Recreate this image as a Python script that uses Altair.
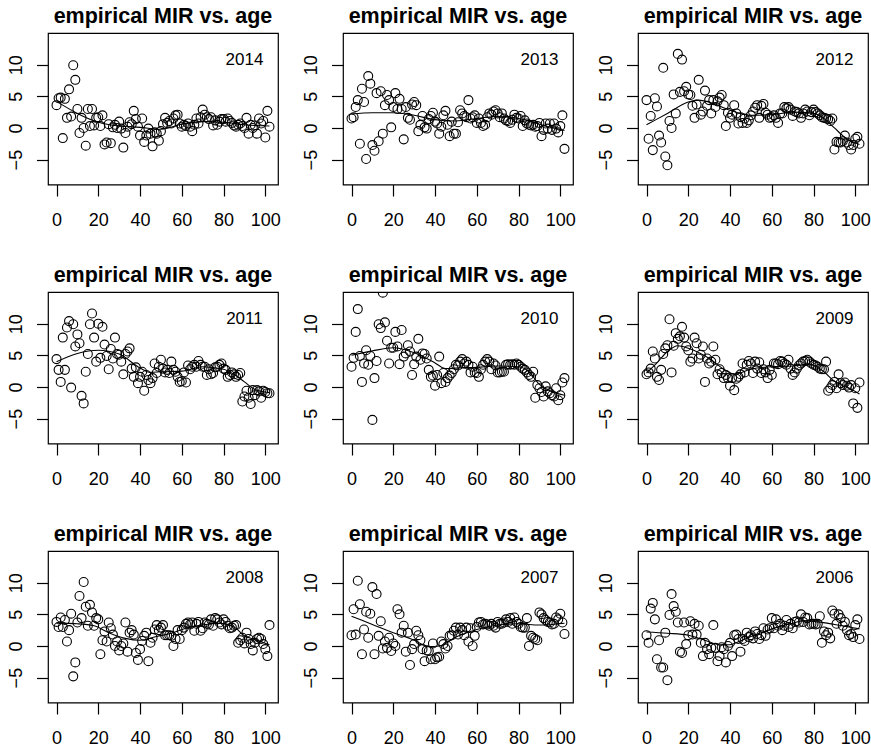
import altair as alt
import pandas as pd

AGES = list(range(103))

Y2014 = [3.6, 4.7, 4.8, -1.6, 4.6, 1.6, 6.1, 1.8, 9.9, 7.6,
         3.0, -0.8, 1.6, 0.0, -2.8, 3.0, 0.3, 3.0, 0.4, 1.6,
         1.7, 0.3, 2.0, -2.6, -2.3, 0.6, -2.4, 0.1, 0.5, 0.0,
         1.0, -0.1, -3.1, -0.8, 0.2, 0.9, 0.6, 2.7, 1.4, 0.2,
         -1.2, 1.5, -2.2, -1.2, -0.1, -0.9, -2.9, -0.7, -0.9, -2.0,
         -0.5, 0.6, 1.6, 0.8, 1.1, 0.7, 1.5, 2.0, 2.1, 0.7,
         0.2, 0.5, 0.3, 0.7, 0.2, -0.5, 0.5, 1.5, 0.7, 1.7,
         2.9, 2.1, 1.7, 1.4, 1.7, 0.4, 1.2, 0.5, 1.0, 1.4,
         1.4, 1.0, 1.5, 1.1, 0.8, 0.4, 0.2, 0.5, 0.7, 0.3,
         0.0, 1.6, -0.9, 0.5, 0.0, 0.4, -0.9, 1.5, 0.7, 1.1,
         -1.5, 2.7, 0.2]
Y2013 = [1.5, 1.7, 3.3, 4.4, -2.5, 6.2, 4.1, -4.9, 8.2, 7.0,
         -2.7, -3.6, 5.5, -2.1, 5.8, -0.9, 3.6, 5.2, 4.4, 0.1,
         3.3, 5.5, 3.0, 4.6, 3.0, -1.8, 3.3, 1.6, 1.3, 3.7,
         4.1, 3.6, -0.5, 0.5, 1.9, 0.1, -0.1, 1.4, 1.9, 2.4,
         1.0, 0.7, -0.9, 0.2, 2.0, 2.7, 0.5, -1.3, 1.0, -0.9,
         -0.9, 0.9, 2.8, 2.3, 1.9, 1.7, 4.4, 1.5, 1.7, 2.0,
         0.8, 1.5, 0.8, 0.3, 0.5, 1.7, 2.3, 2.1, 2.6, 2.8,
         2.3, 1.7, 2.3, 1.5, 1.2, 1.1, 0.8, 1.3, 2.1, 1.6,
         1.5, 1.9, 0.3, 1.2, 0.7, 0.5, 0.4, 0.5, 0.2, 0.3,
         0.8, -1.3, -0.3, 0.7, -0.1, 0.7, -0.3, 0.7, -0.1, -0.7,
         0.3, 2.0, -3.3]
Y2012 = [4.4, -1.7, 1.9, -3.5, 4.7, 3.4, -1.2, -2.3, 9.5, -4.5,
         -5.9, 1.1, 0.0, 5.3, 2.3, 11.7, 5.7, 10.8, 5.8, 6.5,
         5.3, 5.2, 3.5, 1.6, 3.7, 7.6, 2.1, 2.6, 5.9, 3.5,
         4.4, 2.3, 4.4, 3.3, 4.2, 4.8, 5.2, 3.6, 0.3, 2.4,
         1.6, 2.1, 3.6, 2.3, 0.7, 1.7, 0.8, 1.5, 0.8, 1.2,
         2.0, 2.6, 3.2, 3.6, 1.6, 3.5, 3.8, 2.4, 2.1, 1.6,
         1.7, 2.0, 1.6, 0.8, 2.3, 2.3, 3.3, 3.1, 3.3, 2.9,
         1.9, 2.6, 2.5, 2.3, 1.6, 2.3, 2.9, 2.6, 2.0, 2.5,
         2.9, 2.5, 2.3, 2.0, 1.7, 1.6, 1.5, 1.4, 1.1, 1.5,
         -3.4, -2.2, -2.3, -2.3, -2.1, -1.2, -2.3, -2.7, -3.4, -2.7,
         -1.7, -1.4, -2.5]
Y2011 = [4.4, 2.7, 0.8, 7.8, 2.7, 9.4, 10.4, -0.1, 9.9, 6.4,
         8.3, 6.9, -1.4, -2.6, 2.4, 5.2, 9.9, 11.6, 7.8, 4.0,
         10.0, 4.6, 9.5, 6.7, 4.9, 2.8, 6.0, 4.5, 7.8, 5.2,
         5.1, 4.0, 2.0, 5.2, 5.6, 6.1, 2.9, 1.6, 3.1, 0.6,
         1.6, 2.4, -0.6, 1.9, 1.1, 0.6, 1.4, 3.7, 2.2, 3.2,
         4.3, 2.9, 2.3, 2.7, 2.2, 4.0, 2.7, 2.4, 1.6, 0.8,
         0.9, 2.3, 0.7, 3.4, 2.8, 3.2, 3.5, 3.2, 4.1, 3.5,
         3.2, 3.2, 1.9, 2.8, 2.0, 2.2, 3.1, 3.2, 3.5, 3.7,
         2.9, 2.7, 1.6, 1.9, 2.3, 2.0, 1.6, 1.9, 2.2, -2.3,
         -1.5, -0.6, -1.7, -2.7, -0.5, -1.3, -0.5, -0.7, -1.7, -0.6,
         -0.8, -1.0, -1.0]
Y2010 = [3.2, 4.6, 8.7, 12.3, 4.9, 0.8, 3.7, 5.8, 3.5, 4.9,
         -5.2, 1.4, 4.1, 9.9, 9.3, 14.9, 10.2, 7.3, 3.7, 6.2,
         6.2, 8.7, 6.4, 3.6, 9.0, 4.8, 5.3, 6.6, 5.6, 1.9,
         3.6, 4.8, 7.6, 4.3, 5.3, 5.2, 4.5, 2.7, 1.6, 1.8,
         0.2, 1.9, 4.8, 0.6, 2.2, 0.8, 1.4, 1.8, 2.2, 2.8,
         3.5, 3.4, 4.0, 4.4, 3.7, 4.0, 3.5, 2.3, 3.2, 2.3,
         2.2, 1.6, 2.8, 3.5, 4.0, 4.4, 4.0, 2.8, 3.7, 3.4,
         2.3, 2.3, 2.4, 2.4, 3.5, 3.6, 3.5, 3.6, 3.5, 3.7,
         3.5, 3.2, 2.9, 2.7, 2.3, 1.9, 1.6, 2.4, -1.7, 0.3,
         -0.2, -0.8, -1.5, 0.1, -0.7, -1.0, -1.3, -1.5, -0.2, -2.1,
         -1.3, 0.7, 1.4]
Y2009 = [2.0, 2.3, 2.9, 5.6, 4.5, 1.6, 1.1, 2.7, 5.2, 6.1,
         6.6, 10.7, 2.3, 6.5, 8.5, 7.6, 8.0, 9.5, 7.8, 6.4,
         5.8, 4.0, 4.5, 7.8, 6.9, 4.5, 5.1, 6.4, 0.8, 4.5,
         3.7, 4.0, 6.4, 4.3, 2.0, 2.8, 2.2, 1.4, 1.9, 1.4,
         0.2, 1.4, -0.5, 1.3, 1.6, 2.0, 3.7, 2.3, 3.5, 4.1,
         3.7, 2.2, 4.0, 2.9, 3.9, 2.2, 2.8, 2.3, 1.4, 2.7,
         1.9, 3.7, 3.7, 3.6, 4.1, 4.0, 3.7, 3.5, 4.3, 2.9,
         1.9, 2.3, 2.9, 3.4, 3.7, 4.0, 4.1, 4.3, 4.0, 3.7,
         3.5, 3.4, 3.2, 2.9, 2.8, 2.8, 4.0, -0.6, -0.2, 0.3,
         0.8, -0.2, 2.0, 0.6, 0.3, 0.7, 0.2, -0.1, 0.3, -2.6,
         -0.2, -3.3, 0.7]
Y2008 = [3.8, 3.0, 4.5, 3.0, 4.1, 0.7, 2.5, 5.1, -4.8, -2.6,
         3.7, 7.9, 4.4, 10.1, 6.2, 3.2, 6.5, 5.3, 3.2, 4.4,
         4.2, -1.3, 0.9, 2.3, 0.7, 3.7, 2.8, 1.8, 0.0, 0.7,
         -0.7, 0.0, 0.4, 3.7, -0.9, 2.1, 2.5, 1.8, -1.1, -2.2,
         -0.5, 0.8, 1.6, 2.1, -2.4, 0.5, 1.3, 2.6, 3.3, 2.5,
         2.9, 3.3, 1.7, 1.7, 1.7, 1.6, 0.0, 1.1, 2.5, 1.1,
         2.5, 2.9, 3.5, 3.7, 3.4, 3.7, 2.4, 3.5, 3.8, 2.4,
         2.8, 3.7, 3.5, 3.4, 4.2, 3.2, 4.4, 4.2, 3.7, 3.4,
         4.2, 3.8, 3.2, 2.8, 2.9, 3.2, 3.3, 0.5, 0.9, 1.3,
         0.4, 2.1, 1.1, 0.3, -0.7, 0.5, 1.1, 1.3, 1.1, 0.3,
         -0.5, -1.6, 3.3]
Y2007 = [1.7, 5.8, 1.8, 10.3, 6.6, -1.3, 2.6, 5.4, 1.3, 5.1,
         9.3, -1.3, 8.2, 1.6, 3.9, -0.4, 0.7, -0.3, 1.3, -0.8,
         0.4, 0.0, 5.8, 5.0, 2.1, 3.2, -0.9, 2.1, -3.0, -0.5,
         0.3, 2.4, 1.7, 0.9, -0.5, -2.4, -0.7, -0.8, -2.1, 0.4,
         -2.1, -1.8, -1.7, 0.7, 0.3, -0.4, 0.0, 1.6, 1.7, 2.4,
         2.9, 1.8, 2.9, 2.5, 1.7, 2.9, 0.7, 2.8, 0.0, 1.6,
         3.0, 3.7, 3.8, 3.4, 3.5, 3.4, 3.2, 3.5, 3.2, 2.9,
         3.8, 3.5, 3.5, 3.7, 4.2, 3.8, 4.4, 3.5, 4.5, 3.8,
         3.5, 3.0, 2.9, 2.9, 4.4, 0.0, 1.6, 1.3, 1.1, 0.9,
         5.3, 5.0, 4.4, 4.1, 3.8, 3.7, 3.4, 3.5, 4.5, 4.2,
         5.1, 3.7, 1.9]
Y2006 = [1.7, 0.5, 5.9, 6.8, 4.2, -2.1, 0.9, -3.4, -3.4, 2.1,
         -5.4, 4.9, 8.2, 6.3, 5.4, 3.7, -0.9, -1.1, 3.7, 0.3,
         1.7, 3.9, 1.8, 3.5, 1.8, 3.2, 0.5, -1.6, 0.5, -0.5,
         -1.3, -0.3, 3.3, -0.3, -2.4, -1.6, -0.2, -0.5, -2.6, 0.0,
         0.5, -1.6, 1.7, 1.8, 1.1, -0.9, 1.1, 0.8, 2.1, 1.4,
         1.7, 1.2, 2.3, 1.9, 1.1, 1.7, 2.8, 1.6, 2.6, 2.8,
         4.4, 2.8, 4.2, 3.2, 3.5, 2.5, 3.2, 4.1, 3.0, 3.5,
         2.8, 3.8, 3.9, 3.7, 5.0, 3.8, 4.5, 4.4, 3.4, 3.5,
         3.5, 3.4, 3.5, 4.7, 0.5, 2.3, 1.7, 2.1, 1.2, 5.6,
         5.1, 3.5, 5.0, 4.4, 3.2, 3.8, 2.5, 1.7, 1.9, 1.4,
         3.3, 4.2, 1.1]

# smooth (lowess-like) curves
S2014_AGE = [0, 10, 20, 30, 40, 50, 60, 70, 80, 90, 102]
S2014_VAL = [4.2, 2.3, 0.9, 0.3, 0.1, -0.2, 0.6, 1.0, 0.9, 0.5, 0.3]
S2013_AGE = [0, 10, 20, 30, 40, 50, 60, 70, 80, 90, 102]
S2013_VAL = [2.2, 2.4, 2.4, 2.0, 1.3, 1.1, 1.5, 1.8, 1.5, 0.6, -0.4]
S2012_AGE = [0, 10, 20, 25, 30, 40, 50, 60, 70, 80, 85, 90, 95, 102]
S2012_VAL = [0.5, 2.3, 4.1, 4.4, 4.1, 2.8, 2.0, 2.1, 2.5, 2.3, 1.5, 0.0, -1.5, -2.6]
S2011_AGE = [0, 10, 20, 30, 40, 45, 50, 60, 70, 80, 85, 90, 95, 102]
S2011_VAL = [4.0, 5.3, 5.8, 5.2, 3.0, 2.3, 2.4, 2.5, 3.2, 2.8, 2.0, 0.8, -0.4, -0.9]
S2010_AGE = [0, 10, 20, 30, 40, 45, 50, 60, 70, 80, 85, 90, 95, 102]
S2010_VAL = [5.0, 5.7, 6.2, 5.4, 3.8, 2.9, 3.0, 3.1, 3.3, 3.2, 2.4, 0.4, -0.6, -1.3]
S2009_AGE = [0, 5, 10, 15, 20, 30, 38, 42, 50, 60, 70, 78, 85, 90, 95, 102]
S2009_VAL = [2.2, 3.8, 5.6, 6.5, 6.1, 4.5, 2.6, 2.0, 2.8, 3.2, 3.3, 3.6, 2.4, 0.9, 0.2, -1.1]
S2008_AGE = [0, 10, 18, 25, 33, 40, 48, 55, 62, 70, 77, 85, 90, 95, 102]
S2008_VAL = [3.6, 3.5, 3.2, 2.1, 1.2, 0.9, 1.5, 2.0, 2.8, 3.3, 3.6, 3.0, 1.6, 1.0, 0.2]
S2007_AGE = [0, 10, 20, 30, 37, 42, 50, 60, 70, 80, 90, 102]
S2007_VAL = [4.7, 3.4, 2.1, 0.9, -0.1, 0.0, 1.4, 2.6, 3.3, 3.5, 3.3, 3.6]
S2006_AGE = [0, 10, 20, 28, 35, 40, 45, 50, 55, 62, 70, 75, 82, 90, 102]
S2006_VAL = [2.2, 2.0, 1.7, 0.9, 0.2, 0.2, 0.8, 1.5, 2.1, 2.9, 3.6, 4.0, 3.8, 3.4, 2.7]

YEARS = ["2014", "2013", "2012", "2011", "2010", "2009", "2008", "2007", "2006"]
POINTS = [Y2014, Y2013, Y2012, Y2011, Y2010, Y2009, Y2008, Y2007, Y2006]
SMOOTH = [(S2014_AGE, S2014_VAL), (S2013_AGE, S2013_VAL), (S2012_AGE, S2012_VAL),
          (S2011_AGE, S2011_VAL), (S2010_AGE, S2010_VAL), (S2009_AGE, S2009_VAL),
          (S2008_AGE, S2008_VAL), (S2007_AGE, S2007_VAL), (S2006_AGE, S2006_VAL)]
TITLE = "empirical MIR vs. age"

FONT = "Liberation Sans"

xscale = alt.Scale(domain=[-4.08, 106.08], nice=False, zero=False)
yscale = alt.Scale(domain=[-8.93, 15.0], nice=False, zero=False)
xaxis = alt.Axis(values=[0, 20, 40, 60, 80, 100], title=None, labelBaseline="alphabetic",
                 labelPadding=29, labelFlush=False)
yaxis = alt.Axis(values=[-5, 0, 5, 10], title=None, labelAngle=270, labelAlign="center",
                 labelBaseline="alphabetic", labelPadding=15, labelFlush=False)


def panel(year, vals, smooth):
    pts = pd.DataFrame({"age": AGES, "mir": vals})
    sm = pd.DataFrame({"age": smooth[0], "mir": smooth[1]})
    x = alt.X("age:Q", scale=xscale, axis=xaxis)
    y = alt.Y("mir:Q", scale=yscale, axis=yaxis)
    p = alt.Chart(pts).mark_point(shape="circle", filled=False, color="black",
                                  size=80, strokeWidth=1.1, opacity=1, clip=True).encode(x=x, y=y)
    l = alt.Chart(sm).mark_line(color="black", strokeWidth=1.1, interpolate="monotone",
                                clip=True).encode(x=x, y=y)
    t = alt.Chart(pd.DataFrame({"label": [year]})).mark_text(
        font=FONT, fontSize=17, color="black", align="center", baseline="middle"
    ).encode(x=alt.datum(90, scale=xscale), y=alt.datum(10.8, scale=yscale), text="label:N")
    return alt.layer(p, l, t).properties(
        width=230, height=151.5,
        title=alt.Title(TITLE, font=FONT, fontSize=21.5, fontWeight="bold", color="black",
                        anchor="middle", baseline="alphabetic", offset=-11, frame="group"),
    )


charts = [panel(yr, v, s) for yr, v, s in zip(YEARS, POINTS, SMOOTH)]

chart = alt.concat(*charts, columns=3, spacing={"row": 107, "column": 65}, bounds="flush").properties(
    padding={"left": 6, "top": 4, "right": 0, "bottom": 0},
    background="white",
).configure_view(
    stroke="black", strokeWidth=1.2
).configure_axis(
    domain=False, grid=False, ticks=True, tickColor="black", tickSize=11.5, tickWidth=1.2,
    labelColor="black", labelFont=FONT, labelFontSize=18
)

chart.save("out.html", embed_options={"renderer": "svg", "actions": False})
